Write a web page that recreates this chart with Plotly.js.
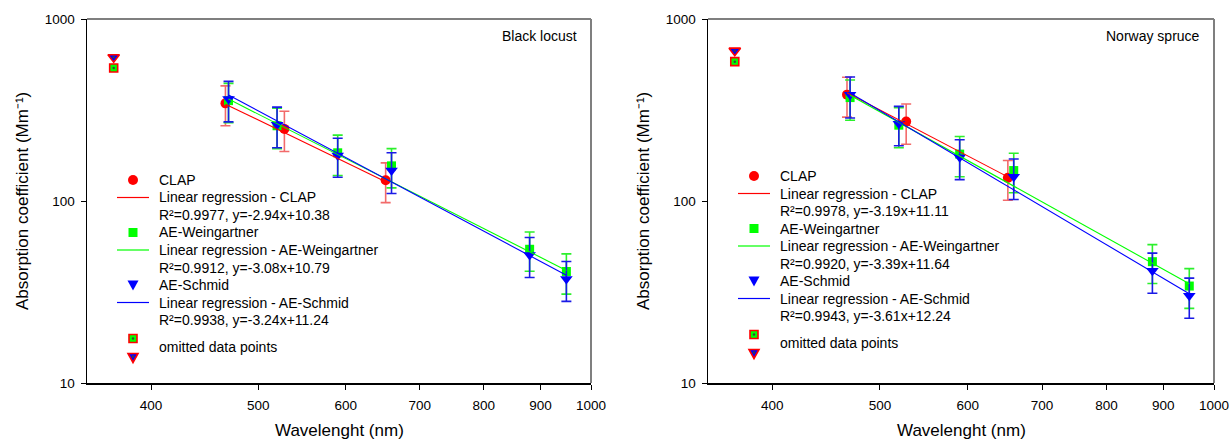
<!DOCTYPE html>
<html><head><meta charset="utf-8">
<script src="https://cdn.plot.ly/plotly-3.0.1.min.js"></script>
<style>html,body{margin:0;padding:0;background:#fff}#chart{width:1229px;height:443px}</style>
</head><body><div id="chart"></div>
<script>
// ---------- data ----------
const aeWavelengths = [470, 520, 590, 660, 880, 950];
const clapWavelengths = [467, 528, 652];
const omittedWavelength = [370];

// Black locust
const blClap = [344, 249, 130];
const blClapErr = [85, 62, 32];
const blWein = [356, 259, 184, 156, 54.3, 41.0];
const blWeinErr = [87, 65, 46, 38, 13.2, 10.2];
const blSchmid = [363, 262, 178, 147, 50.5, 37.3];
const blSchmidErr = [91, 66, 43, 37, 12.5, 9.2];
const blOmittedWein = [538];
const blOmittedSchmid = [616];
const blSlopes = [-2.94, -3.08, -3.24];
const blIntercepts = [10.38, 10.79, 11.24];
const blR2 = ['0.9977', '0.9912', '0.9938'];

// Norway spruce
const nsClap = [384, 273, 134];
const nsClapErr = [95, 68, 33];
const nsWein = [370, 261, 181, 147, 46.4, 34.1];
const nsWeinErr = [92, 65, 45, 36, 11.2, 8.4];
const nsSchmid = [383, 266, 174, 136, 41.4, 30.2];
const nsSchmidErr = [97, 65, 43, 34, 10.3, 7.5];
const nsOmittedWein = [583];
const nsOmittedSchmid = [670];
const nsSlopes = [-3.19, -3.39, -3.61];
const nsIntercepts = [11.11, 11.64, 12.24];
const nsR2 = ['0.9978', '0.9920', '0.9943'];

const seriesNames = ['CLAP', 'AE-Weingartner', 'AE-Schmid'];
const panelTitles = ['Black locust', 'Norway spruce'];
const xTicks = [400, 500, 600, 700, 800, 900, 1000];
const yTicks = [10, 100, 1000];
const yMinorTicks = [20, 30, 40, 50, 60, 70, 80, 90, 200, 300, 400, 500, 600, 700, 800, 900];
const xTitle = 'Wavelenght (nm)';
const yTitle = 'Absorption coefficient (Mm\u207B\u00B9)';

// ---------- styling / layout helpers ----------
const W = 1229, H = 443;
const FONT = 'Liberation Sans, Arial, sans-serif';
const RED = '#ff0000', GREEN = '#00ff00', BLUE = '#0000ff';
const PLOT_TOP = 19, PLOT_BOTTOM = 383;
const panels = [
  {left: 87, right: 591, legendTop: 180, xa: 'x', ya: 'y'},
  {left: 708, right: 1214, legendTop: 176, xa: 'x2', ya: 'y2'}
];
const px = v => v / W;
const py = v => 1 - v / H;

const datasets = [
  {clap: blClap, clapErr: blClapErr, wein: blWein, weinErr: blWeinErr, schmid: blSchmid, schmidErr: blSchmidErr,
   omW: blOmittedWein, omS: blOmittedSchmid, slopes: blSlopes, intercepts: blIntercepts, r2: blR2},
  {clap: nsClap, clapErr: nsClapErr, wein: nsWein, weinErr: nsWeinErr, schmid: nsSchmid, schmidErr: nsSchmidErr,
   omW: nsOmittedWein, omS: nsOmittedSchmid, slopes: nsSlopes, intercepts: nsIntercepts, r2: nsR2}
];

const traces = [];
const shapes = [];
const annotations = [];

function regLine(wl, m, b) {
  const xs = [Math.min(...wl), Math.max(...wl)];
  return {x: xs, y: xs.map(x => Math.pow(10, b + m * Math.log10(x)))};
}

datasets.forEach((d, i) => {
  const p = panels[i];
  const ax = {xaxis: p.xa, yaxis: p.ya, hoverinfo: 'skip'};
  const wls = [clapWavelengths, aeWavelengths, aeWavelengths];
  const lineCols = [RED, GREEN, BLUE];
  traces.push(Object.assign({type: 'scatter', mode: 'markers', x: clapWavelengths, y: d.clap,
    marker: {symbol: 'circle', size: 10, color: RED},
    error_y: {type: 'data', array: d.clapErr, symmetric: true, color: 'rgba(240,80,80,0.85)', thickness: 1.6, width: 5}}, ax));
  traces.push(Object.assign({type: 'scatter', mode: 'markers', x: aeWavelengths, y: d.wein,
    marker: {symbol: 'square', size: 9, color: GREEN},
    error_y: {type: 'data', array: d.weinErr, symmetric: true, color: '#2cf02c', thickness: 1.6, width: 5}}, ax));
  traces.push(Object.assign({type: 'scatter', mode: 'markers', x: aeWavelengths, y: d.schmid,
    marker: {symbol: 'triangle-down', size: 11, color: BLUE},
    error_y: {type: 'data', array: d.schmidErr, symmetric: true, color: '#1a1ae6', thickness: 1.6, width: 5}}, ax));
  for (let k = 0; k < 3; k++) {
    const r = regLine(wls[k], d.slopes[k], d.intercepts[k]);
    traces.push(Object.assign({type: 'scatter', mode: 'lines', x: r.x, y: r.y,
      line: {color: lineCols[k], width: 1.1}}, ax));
  }
  traces.push(Object.assign({type: 'scatter', mode: 'markers', x: omittedWavelength, y: d.omW,
    marker: {symbol: 'square', size: 8, color: GREEN, line: {color: RED, width: 1.6}}}, ax));
  traces.push(Object.assign({type: 'scatter', mode: 'markers', x: omittedWavelength, y: d.omS,
    marker: {symbol: 'triangle-down', size: 10, color: BLUE, line: {color: RED, width: 1.6}}}, ax));
  traces.push(Object.assign({type: 'scatter', mode: 'markers', x: omittedWavelength.concat(omittedWavelength), y: d.omW.concat(d.omS),
    marker: {symbol: 'circle', size: 2.5, color: '#404040'}}, ax));

  shapes.push({type: 'line', xref: 'paper', yref: 'paper', x0: px(p.left), x1: px(p.right), y0: py(PLOT_TOP), y1: py(PLOT_TOP),
    line: {color: '#7f7f7f', width: 2}});
  shapes.push({type: 'line', xref: 'paper', yref: 'paper', x0: px(p.right), x1: px(p.right), y0: py(PLOT_TOP), y1: py(PLOT_BOTTOM),
    line: {color: '#7f7f7f', width: 2}});

  annotations.push({xref: 'paper', yref: 'paper', x: px(p.right - 12), y: py(36), xanchor: 'right', yanchor: 'middle',
    text: panelTitles[i], showarrow: false, font: {family: FONT, size: 14, color: '#000'}});
  annotations.push({xref: 'paper', yref: 'paper', x: px((p.left + p.right) / 2), y: py(430), xanchor: 'center', yanchor: 'middle',
    text: xTitle, showarrow: false, font: {family: FONT, size: 17, color: '#000'}});
  annotations.push({xref: 'paper', yref: 'paper', x: px(p.left - 65), y: py(201), xanchor: 'center', yanchor: 'middle',
    text: yTitle, textangle: -90, showarrow: false, font: {family: FONT, size: 17, color: '#000'}});

  // custom legend
  const sx = p.left + 46, lx0 = p.left + 30, lx1 = p.left + 62, tx = p.left + 70;
  const step = 17.5;
  const rowsText = [];
  const markerKinds = ['circle', 'square', 'triangle'];
  for (let k = 0; k < 3; k++) {
    const base = p.legendTop + k * 3 * step;
    rowsText.push([base, seriesNames[k]]);
    rowsText.push([base + step, 'Linear regression - ' + seriesNames[k]]);
    rowsText.push([base + 2 * step, 'R\u00B2=' + d.r2[k] + ', y=' + d.slopes[k].toFixed(2) + 'x+' + d.intercepts[k].toFixed(2)]);
    const col = lineCols[k];
    if (markerKinds[k] === 'circle') {
      shapes.push({type: 'circle', xref: 'paper', yref: 'paper', x0: px(sx - 5), x1: px(sx + 5), y0: py(base - 5), y1: py(base + 5),
        fillcolor: col, line: {width: 0}});
    } else if (markerKinds[k] === 'square') {
      shapes.push({type: 'rect', xref: 'paper', yref: 'paper', x0: px(sx - 4.5), x1: px(sx + 4.5), y0: py(base - 4.5), y1: py(base + 4.5),
        fillcolor: col, line: {width: 0}});
    } else {
      shapes.push({type: 'path', xref: 'paper', yref: 'paper',
        path: `M ${px(sx - 5.5)} ${py(base - 4.5)} L ${px(sx + 5.5)} ${py(base - 4.5)} L ${px(sx)} ${py(base + 5.5)} Z`,
        fillcolor: col, line: {width: 0}});
    }
    shapes.push({type: 'line', xref: 'paper', yref: 'paper', x0: px(lx0), x1: px(lx1), y0: py(base + step), y1: py(base + step),
      line: {color: col, width: 1.2}});
  }
  const omBase = p.legendTop + 9 * step;
  const sqY = omBase + 1, triY = omBase + 20, textY = omBase + 9.5;
  rowsText.push([textY, 'omitted data points']);
  shapes.push({type: 'rect', xref: 'paper', yref: 'paper', x0: px(sx - 4), x1: px(sx + 4), y0: py(sqY - 4), y1: py(sqY + 4),
    fillcolor: GREEN, line: {color: RED, width: 1.6}});
  shapes.push({type: 'path', xref: 'paper', yref: 'paper',
    path: `M ${px(sx - 5)} ${py(triY - 4)} L ${px(sx + 5)} ${py(triY - 4)} L ${px(sx)} ${py(triY + 5)} Z`,
    fillcolor: BLUE, line: {color: RED, width: 1.6}});
  [sqY, triY - 1].forEach(yy => shapes.push({type: 'circle', xref: 'paper', yref: 'paper',
    x0: px(sx - 1.2), x1: px(sx + 1.2), y0: py(yy - 1.2), y1: py(yy + 1.2), fillcolor: '#404040', line: {width: 0}}));
  rowsText.forEach(([yy, t]) => annotations.push({xref: 'paper', yref: 'paper', x: px(tx), y: py(yy), xanchor: 'left', yanchor: 'middle',
    text: t, showarrow: false, font: {family: FONT, size: 14, color: '#000'}}));
});

function xAxis(p, anchor) {
  return {type: 'log', domain: [px(p.left), px(p.right)], range: [Math.log10(350), 3], anchor: anchor,
    tickvals: xTicks, ticktext: xTicks.map(String), ticks: 'outside', ticklen: 5, tickwidth: 1, tickcolor: '#000',
    showline: true, linecolor: '#000', linewidth: 1.5, showgrid: false, zeroline: false, automargin: false,
    ticklabeloverflow: 'allow', ticklabelstandoff: 4, tickfont: {family: FONT, size: 13.5, color: '#000'}};
}
function yAxis(anchor) {
  return {type: 'log', domain: [py(PLOT_BOTTOM), py(PLOT_TOP)], range: [1, 3], anchor: anchor,
    tickvals: yTicks, ticktext: yTicks.map(String), ticks: 'outside', ticklen: 5, tickwidth: 1, tickcolor: '#000',
    showline: true, linecolor: '#000', linewidth: 1.5, showgrid: false, zeroline: false, automargin: false,
    ticklabeloverflow: 'allow', ticklabelstandoff: 3, tickfont: {family: FONT, size: 13.5, color: '#000'}};
}
function yMinorAxis(anchor, over) {
  return {type: 'log', overlaying: over, anchor: anchor, side: 'left', range: [1, 3],
    tickmode: 'array', tickvals: yMinorTicks, showticklabels: false, ticks: 'outside', ticklen: 3, tickwidth: 1, tickcolor: '#000',
    showline: false, showgrid: false, zeroline: false, automargin: false};
}

const layout = {
  width: W, height: H, margin: {l: 0, r: 0, t: 0, b: 0},
  paper_bgcolor: '#ffffff', plot_bgcolor: '#ffffff', showlegend: false,
  xaxis: xAxis(panels[0], 'y'), yaxis: yAxis('x'),
  xaxis2: xAxis(panels[1], 'y2'), yaxis2: yAxis('x2'),
  yaxis3: yMinorAxis('x', 'y'), yaxis4: yMinorAxis('x2', 'y2'),
  shapes: shapes, annotations: annotations
};

Plotly.newPlot('chart', traces, layout, {staticPlot: true, displayModeBar: false});
</script>
</body></html>
